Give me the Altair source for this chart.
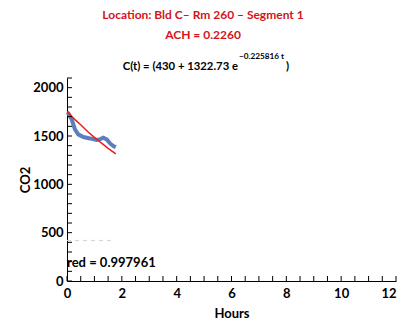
import altair as alt
import pandas as pd

# --- data ---
meas_hours = [0.0, 0.05, 0.17, 0.29, 0.41, 0.6, 0.84, 1.08, 1.2, 1.32, 1.45, 1.57, 1.69, 1.78]
meas_co2 = [1745, 1735, 1672, 1568, 1517, 1489, 1475, 1458, 1465, 1482, 1465, 1423, 1396, 1385]

fit_hours = [0.0, 0.25, 0.5, 0.75, 1.0, 1.25, 1.5, 1.78]
fit_co2 = [1753, 1680, 1617, 1547, 1486, 1428, 1373, 1315]

base_hours = [0.0, 1.6]
base_co2 = [420, 420]

title_1 = "Location: Bld C\u2013 Rm 260 \u2013 Segment 1"
title_2 = "ACH = 0.2260"
formula_main = "C(t) = (430 + 1322.73 e"
formula_sup = "\u22120.225816 t"
formula_end = ")"
note_text = "red = 0.997961"
note_pos = [0.0, 190]

x_ticks = [i * 0.5 for i in range(25)]
y_ticks = [i * 100 for i in range(22)]
x_labels = [0, 2, 4, 6, 8, 10, 12]
y_labels = [0, 500, 1000, 1500, 2000]

W, H = 329, 203
FONT = "Lato"
TC = 136  # horizontal centre of the title block, relative to plot left

meas = pd.DataFrame({"Hours": meas_hours, "CO2": meas_co2})
fit = pd.DataFrame({"Hours": fit_hours, "CO2": fit_co2})
base = pd.DataFrame({"Hours": base_hours, "CO2": base_co2})

xs = alt.Scale(domain=[0, 12], nice=False, zero=False)
ys = alt.Scale(domain=[0, 2100], nice=False, zero=False)

x_enc = alt.X("Hours:Q", scale=xs, title="Hours",
              axis=alt.Axis(values=x_labels, format="d", ticks=False, grid=False, labelPadding=6,
                            titlePadding=7, domainColor="black", labelFlush=False,
                            labelAlign=alt.ExprRef(expr="datum.value == 12 ? 'right' : 'center'"),
                            labelBound=False))
y_enc = alt.Y("CO2:Q", scale=ys, title="CO2",
              axis=alt.Axis(values=y_labels, format="d", ticks=False, grid=False, labelPadding=4,
                            titlePadding=0, domainColor="black"))

meas_line = alt.Chart(meas).mark_line(color="#5b7fbd", strokeWidth=4).encode(x=x_enc, y=y_enc)
fit_line = alt.Chart(fit).mark_line(color="#ee1c1c", strokeWidth=1.5).encode(x="Hours:Q", y="CO2:Q")
base_line = alt.Chart(base).mark_line(color="#d0d0d0", strokeWidth=1, strokeDash=[4, 4]).encode(
    x="Hours:Q", y="CO2:Q")

xt = alt.Chart(pd.DataFrame({"v": x_ticks})).mark_rule(color="black", strokeWidth=1).encode(
    x="v:Q", y=alt.value(H), y2=alt.value(H - 5))
yt = alt.Chart(pd.DataFrame({"v": y_ticks})).mark_rule(color="black", strokeWidth=1).encode(
    y="v:Q", x=alt.value(0), x2=alt.value(5))

note = alt.Chart(pd.DataFrame({"Hours": [note_pos[0]], "CO2": [note_pos[1]], "t": [note_text]})).mark_text(
    align="left", baseline="middle", font=FONT, fontWeight="bold", fontSize=13, color="black").encode(
    x="Hours:Q", y="CO2:Q", text="t:N")

def txt(s, x, y, size, color, align="center", weight="bold"):
    return alt.Chart(pd.DataFrame({"t": [s]})).mark_text(
        align=align, baseline="middle", font=FONT, fontWeight=weight, fontSize=size, color=color
    ).encode(x=alt.value(x), y=alt.value(y), text="t:N")

t1 = txt(title_1, TC, -63, 12, "#d2151b")
t2 = txt(title_2, TC, -43, 12, "#d2151b")
f1 = txt(formula_main, 171, -11, 11.3, "black", align="right")
f2 = txt(formula_sup, 172, -21, 8.2, "black", align="left")
f3 = txt(formula_end, 219, -11, 11.3, "black", align="left")

chart = alt.layer(base_line, meas_line, fit_line, xt, yt, note, t1, t2, f1, f2, f3).properties(
    width=W, height=H,
    autosize=alt.AutoSizeParams(type="none"),
    padding={"left": 59, "top": 70, "right": 1, "bottom": 39},
).configure_view(stroke=None).configure_axis(
    labelFont=FONT, labelFontWeight="bold", labelFontSize=13, labelColor="black",
    titleFont=FONT, titleFontWeight="bold", titleFontSize=13, titleColor="black",
)

chart.save("out.html", embed_options={"renderer": "svg", "actions": False})
